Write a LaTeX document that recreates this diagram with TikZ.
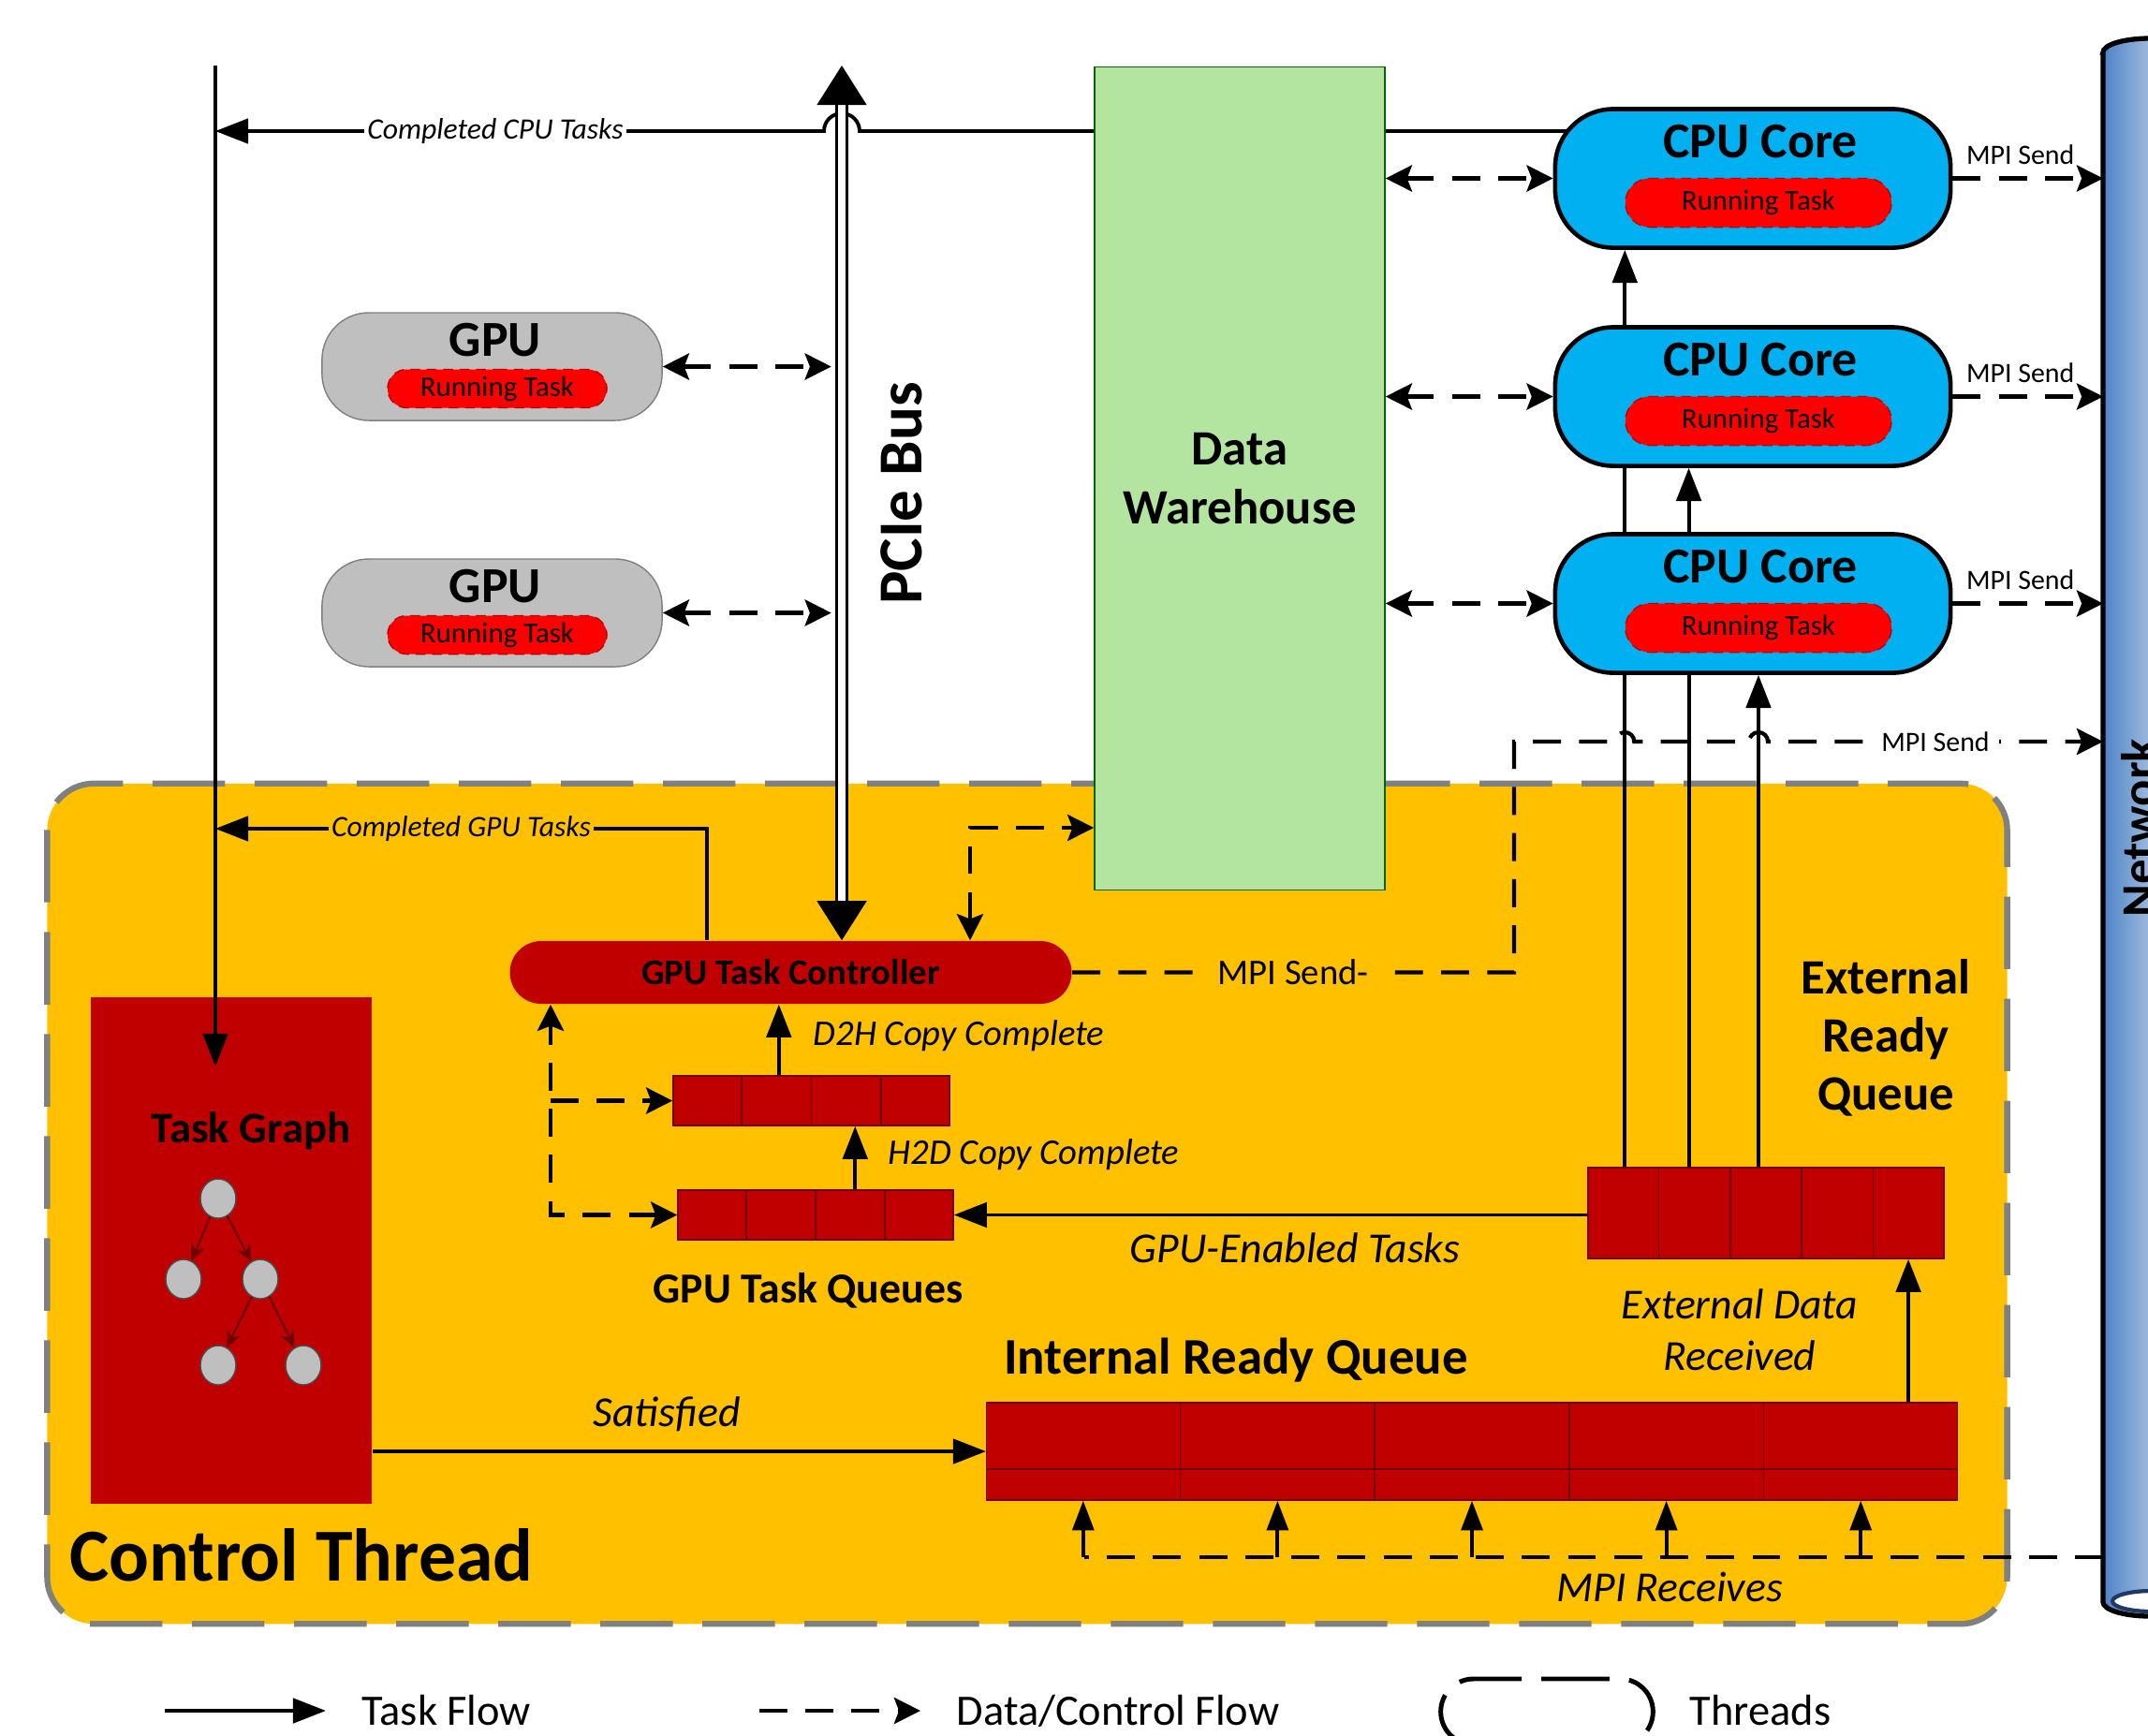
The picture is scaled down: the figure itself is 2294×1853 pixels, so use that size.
\documentclass[tikz,border=0pt]{standalone}
\usepackage{fontspec}
\setmainfont{Carlito}
\usepackage{tikz}
\usetikzlibrary{positioning,calc,arrows.meta,shapes.misc,shapes.geometric}
\definecolor{CtlGold}{RGB}{255,192,0}
\definecolor{CtlEdge}{RGB}{128,128,128}
\definecolor{TaskRed}{RGB}{192,0,0}
\definecolor{RunRed}{RGB}{255,0,0}
\definecolor{QueueEdge}{RGB}{110,0,0}
\definecolor{CoreBlue}{RGB}{0,176,240}
\definecolor{GpuGray}{RGB}{191,191,191}
\definecolor{WareGreen}{RGB}{179,229,161}
\definecolor{NetEdge}{RGB}{31,56,100}
\definecolor{NetMid}{RGB}{78,132,198}
\definecolor{NetLight}{RGB}{236,238,244}
\pgfdeclarelayer{back}
\pgfdeclarelayer{wires}
\pgfsetlayers{back,wires,main}
\tikzset{
  ctlbox/.style={rectangle, rounded corners=0.5cm, draw=CtlEdge, line width=1.8pt,
    dash pattern=on 22pt off 9pt, fill=CtlGold, minimum width=20.92cm, minimum height=8.97cm},
  gpubox/.style={rectangle, rounded corners=0.5cm, draw=gray, fill=GpuGray,
    minimum width=3.63cm, minimum height=1.15cm},
  corebox/.style={rectangle, rounded corners=0.62cm, draw=black, line width=1.3pt,
    fill=CoreBlue, minimum width=4.22cm, minimum height=1.48cm},
  runtask/.style={rounded rectangle, draw=TaskRed, densely dashed, thin, fill=RunRed,
    inner sep=0pt, font=\fontsize{8.8}{10}\selectfont},
  warehouse/.style={rectangle, draw=green!40!black, fill=WareGreen, minimum width=3.10cm,
    minimum height=8.78cm, align=center, font=\bfseries\fontsize{15}{18}\selectfont},
  hdr/.style={font=\bfseries\fontsize{15.3}{18}\selectfont},
  tgbox/.style={rectangle, fill=TaskRed, minimum width=3.0cm, minimum height=5.41cm},
  tcbox/.style={rounded rectangle, fill=TaskRed, minimum width=6.23cm, minimum height=0.67cm,
    font=\bfseries\fontsize{11}{13}\selectfont},
  treenode/.style={ellipse, draw=gray!60!black, fill=GpuGray, minimum width=0.38cm,
    minimum height=0.42cm, inner sep=0pt},
  treeedge/.style={-{Stealth[length=5pt,width=4.5pt]}, draw=QueueEdge, line width=0.6pt},
  qbox/.style={rectangle, draw=QueueEdge, fill=TaskRed, inner sep=0pt},
  qline/.style={draw=QueueEdge, line width=0.5pt},
  qname/.style={font=\bfseries\fontsize{15}{17.6}\selectfont, align=center},
  lbl/.style={font=\itshape\fontsize{13}{15.5}\selectfont, align=center},
  cplbl/.style={font=\itshape\fontsize{11}{13}\selectfont, anchor=west, inner sep=0pt},
  smallnote/.style={font=\itshape\fontsize{9}{10}\selectfont, inner sep=1pt},
  mpi/.style={font=\fontsize{8.5}{10}\selectfont, inner sep=1.5pt},
  legend/.style={font=\fontsize{13.2}{15}\selectfont, inner sep=0pt},
  flow/.style={-{Triangle[length=10pt,width=7.5pt]}, line width=1.1pt},
  dline/.style={line width=1.2pt, dash pattern=on 8.5pt off 5.5pt},
  dflow/.style={dline, {Stealth[length=8pt,width=8pt,inset=1.5pt]}-{Stealth[length=8pt,width=8pt,inset=1.5pt]}},
  dout/.style={dline, -{Stealth[length=8pt,width=8pt,inset=1.5pt]}},
  bus/.style={double, double distance=2.4pt, line width=0.9pt},
  bustip/.style={-{Triangle[length=12pt,width=15pt]}, line width=0.9pt},
  netpipe/.style={draw=black, line width=1.5pt},
  threadkey/.style={rounded rectangle, draw=black, line width=1.4pt,
    dash pattern=on 19pt off 6pt, minimum width=2.50cm, minimum height=0.70cm}
}

\begin{document}
\begin{tikzpicture}[x=0.01cm, y=0.01cm]
  \useasboundingbox (0,0) rectangle (2294,-1853);
  \clip (0,0) rectangle (2294,-1853);

  \begin{pgfonlayer}{back}
    \node[ctlbox] (ctl) at (1097,-1285.5) {};
  \end{pgfonlayer}
  \node[font=\bfseries\fontsize{22.7}{27}\selectfont] (ctlName) at (322,-1661) {Control Thread};

  % GPUs hanging off the bus
  \foreach \n/\y in {gpuA/391.5, gpuB/654.5} {
    \node[gpubox] (\n) at (525.5,-\y) {};
    \node[hdr] (\n-name) at ([xshift=0.035cm,yshift=0.285cm]\n.center) {GPU};
    \node[runtask, minimum width=2.34cm, minimum height=0.41cm] (\n-run)
      at ([xshift=0.055cm,yshift=-0.235cm]\n.center) {Running Task};
  }
  \coordinate (busTop) at (899,-70);
  \node[font=\bfseries\fontsize{19}{22}\selectfont, rotate=90] (bus) at (963,-527) {PCIe Bus};
  \node[warehouse] (dw) at (1324,-511) {Data\\Warehouse};

  % CPU cores
  \foreach \n/\y in {cpuA/190.5, cpuB/423.5, cpuC/644.5} {
    \node[corebox] (\n) at (1872,-\y) {};
    \node[hdr] (\n-name) at ([xshift=0.08cm,yshift=0.39cm]\n.center) {CPU Core};
    \node[runtask, minimum width=2.84cm, minimum height=0.52cm] (\n-run)
      at ([xshift=0.06cm,yshift=-0.26cm]\n.center) {Running Task};
  }

  % network pipe
  \shadedraw[netpipe, left color=NetMid, right color=NetLight]
    (2246,-56) -- (2246,-1711) arc (180:360:0.5cm and 0.15cm)
    -- (2346,-56) arc (0:180:0.5cm and 0.15cm) -- cycle;
  \filldraw[draw=NetEdge, line width=1.2pt, fill=white] (2298,-1710) ellipse (0.42cm and 0.11cm);
  \node[qname, rotate=90] (net) at (2284,-884) {Network};
  \coordinate (netW) at (2246,-884);

  % task graph
  \node[tgbox] (tg) at (247,-1335.5) {};
  \node[font=\bfseries\fontsize{13.3}{16}\selectfont] (tgName) at (268,-1208) {Task Graph};
  \node[treenode] (tn1) at (233,-1280) {};
  \node[treenode] (tn2) at (196,-1366) {};
  \node[treenode] (tn3) at (278,-1366) {};
  \node[treenode] (tn4) at (233,-1458) {};
  \node[treenode] (tn5) at (324,-1458) {};
  \foreach \a/\b in {tn1/tn2, tn1/tn3, tn3/tn4, tn3/tn5}
    \draw[treeedge] (\a) -- (\b);

  \node[tcbox] (tc) at (844.5,-1038.5) {GPU Task Controller};

  % queues
  \node[qbox, minimum width=2.95cm, minimum height=0.53cm] (d2h) at (866.5,-1175.5) {};
  \node[qbox, minimum width=2.94cm, minimum height=0.53cm] (h2d) at (871,-1297.5) {};
  \node[qbox, minimum width=3.80cm, minimum height=0.97cm] (erq) at (1886,-1295.5) {};
  \node[qbox, minimum width=10.36cm, minimum height=1.04cm] (irq) at (1572,-1550) {};
  \foreach \q in {d2h,h2d}
    \foreach \i in {1,2,3}
      \draw[qline] ($(\q.north west)!\i/4!(\q.north east)$) -- ($(\q.south west)!\i/4!(\q.south east)$);
  \foreach \q in {erq,irq}
    \foreach \i in {1,...,4}
      \draw[qline] ($(\q.north west)!\i/5!(\q.north east)$) -- ($(\q.south west)!\i/5!(\q.south east)$);
  \draw[qline] ($(irq.north west)!0.68!(irq.south west)$) -- ($(irq.north east)!0.68!(irq.south east)$);

  \node[font=\bfseries\fontsize{13}{15}\selectfont] (gtq) at (863,-1378) {GPU Task Queues};
  \node[qname, font=\bfseries\fontsize{15.6}{19}\selectfont] (irqName) at (1320,-1453) {Internal Ready Queue};
  \node[qname] (erqName) at (2014,-1108) {External\\Ready\\Queue};
  \node[cplbl] (d2hLbl) at (868,-1106) {D2H Copy Complete};
  \node[cplbl] (h2dLbl) at (948,-1233) {H2D Copy Complete};
  \node[lbl] (gpuEn) at (1383,-1333) {GPU-Enabled Tasks};
  \node[lbl] (extData) at (1858,-1420) {External Data\\Received};
  \node[lbl] (mpiRecv) at (1783,-1695) {MPI Receives};

  \coordinate (cpuLink) at (1800,-140);
  \coordinate (tgIn) at (230,-70);
  \coordinate (tgEnd) at (230,-1139);
  \coordinate (gpuDone) at (755,-885);
  \coordinate (dwLink) at (1036,-884);
  \coordinate (qCol) at (588,-1175.5);
  \coordinate (mpiCol) at (1617,-792);
  \coordinate (recv) at (1157.5,-1663);
  \coordinate (upA) at ($(erq.north west)!0.105!(erq.north east)$);
  \coordinate (upB) at ($(erq.north west)!0.284!(erq.north east)$);
  \coordinate (upC) at ($(erq.north west)!0.479!(erq.north east)$);
  \coordinate (hopA) at (upA |- mpiCol);
  \coordinate (hopC) at (upC |- mpiCol);
  \coordinate (busBot) at (busTop |- tc.north);
  \coordinate (busHop) at (busTop |- cpuLink);

  % wires that run behind the boxes
  \begin{pgfonlayer}{wires}
    \draw[flow] (cpuLink) -- ([xshift=0.19cm]busHop) arc (0:180:0.19cm)
      -- node[smallnote, fill=white, pos=0.54] {Completed CPU Tasks} (tgIn |- cpuLink);
    \draw[bus] ([yshift=-11pt]busTop) -- ([yshift=11pt]busBot);
    \draw[bustip] ([yshift=-11.5pt]busTop) -- (busTop);
    \draw[bustip] ([yshift=11.5pt]busBot) -- (busBot);
    \draw[flow] (upA) -- (upA |- cpuA.south);
    \draw[flow] (upB) -- (upB |- cpuB.south);
    \draw[flow] (upC) -- (upC |- cpuC.south);
  \end{pgfonlayer}

  \draw[flow] (tgIn) -- (tgEnd);
  \foreach \n in {gpuA,gpuB} {
    \coordinate (\n-bus) at (busTop |- \n.east);
    \draw[dflow] (\n.east) -- ([xshift=-3.2pt]\n-bus);
  }
  \foreach \n in {cpuA,cpuB,cpuC} {
    \draw[dflow] (dw.east |- \n.west) -- (\n.west);
    \draw[dout] (\n.east) -- node[mpi, above=2pt, pos=0.45] {MPI Send} (netW |- \n.east);
  }
  \draw[flow] (gpuDone |- tc.north) -- (gpuDone)
    -- node[smallnote, fill=CtlGold] {Completed GPU Tasks} (tgIn |- gpuDone);
  \draw[dflow] (dwLink |- tc.north) -- (dwLink) -- (dw.west |- dwLink);

  \coordinate (dUp) at ($(d2h.north west)!0.383!(d2h.north east)$);
  \coordinate (hUp) at ($(h2d.north west)!0.643!(h2d.north east)$);
  \draw[flow] (dUp) -- (dUp |- tc.south);
  \draw[flow] (hUp) -- (hUp |- d2h.south);
  \draw[dflow] (h2d.west) -| (qCol |- tc.south);
  \draw[dout] (qCol) -- (d2h.west);
  \draw[flow] (erq.west |- h2d.east) -- (h2d.east);
  \draw[flow] (tg.east |- irq.west) -- node[lbl, above=2pt, pos=0.48] {Satisfied} (irq.west);
  \coordinate (xUp) at ($(irq.north west)!0.949!(irq.north east)$);
  \draw[flow] (xUp) -- (xUp |- erq.south);

  \draw[dout] (tc.east)
    -- node[font=\fontsize{11}{13}\selectfont, fill=CtlGold, inner xsep=4pt, inner ysep=1pt] {MPI Send-} (mpiCol |- tc.east)
    -- (mpiCol) -- ([xshift=-0.1cm]hopA) arc (180:0:0.1cm)
    -- ([xshift=-0.1cm]hopC) arc (180:0:0.1cm)
    -- node[mpi, fill=white, inner xsep=3pt] {MPI Send} (netW |- mpiCol);

  \draw[dline] (netW |- recv) -- (recv);
  \foreach \i in {1,...,5} {
    \pgfmathsetmacro\fr{(\i-0.5)/5}
    \coordinate (col\i) at ($(irq.south west)!\fr!(irq.south east)$);
    \draw[-{Triangle[length=9pt,width=6.5pt]}, line width=1.1pt] (col\i |- recv) -- (col\i);
  }

  % legend
  \node[legend, anchor=west] (lgTask) at (386,-1827) {Task Flow};
  \coordinate (lgTaskIn) at (176,-1827);
  \draw[flow] (lgTaskIn) -- ([xshift=-0.38cm]lgTask.west);
  \node[legend, anchor=west] (lgData) at (1021,-1827) {Data/Control Flow};
  \coordinate (lgDataIn) at (811,-1827);
  \draw[dout] (lgDataIn) -- ([xshift=-0.38cm]lgData.west);
  \node[threadkey] (lgThr) at (1652,-1828) {};
  \node[legend, anchor=west] (lgThrName) at (1804,-1827) {Threads};
\end{tikzpicture}
\end{document}
